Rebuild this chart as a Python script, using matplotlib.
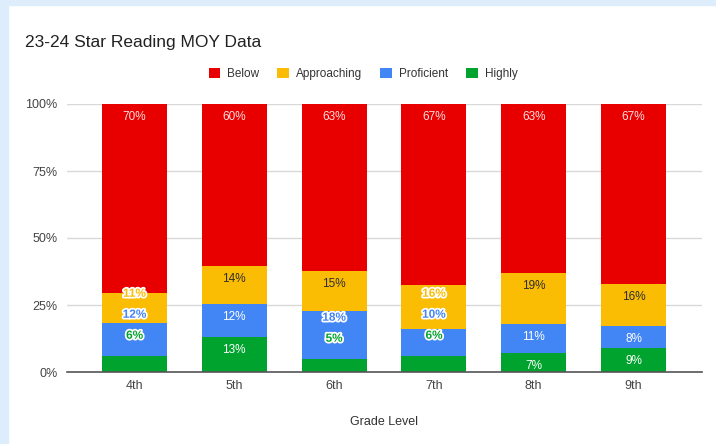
import matplotlib
matplotlib.use("Agg")
import matplotlib.pyplot as plt
import matplotlib.patheffects as pe
import numpy as np

plt.rcParams["font.family"] = ["Liberation Sans", "DejaVu Sans"]

grades = ["4th", "5th", "6th", "7th", "8th", "9th"]
highly = [6, 13, 5, 6, 7, 9]
proficient = [12, 12, 18, 10, 11, 8]
approaching = [11, 14, 15, 16, 19, 16]
below = [70, 60, 63, 67, 63, 67]

series = [
    ("Highly", highly, "#00a32d", "white"),
    ("Proficient", proficient, "#4285f4", "white"),
    ("Approaching", approaching, "#fbbc04", "#2e2e2e"),
    ("Below", below, "#e80000", "#fde0e0"),
]

fig = plt.figure(figsize=(7.16, 4.44), dpi=100)
fig.patch.set_facecolor("white")
# light blue frame along top and left edges
fig.patches.append(plt.Rectangle((0, 1 - 5 / 444), 1, 5 / 444, transform=fig.transFigure,
                                 color="#deedfc", zorder=0))
fig.patches.append(plt.Rectangle((0, 0), 8 / 716, 1, transform=fig.transFigure,
                                 color="#deedfc", zorder=0))

ax = fig.add_axes([67 / 716, 72 / 444, 635 / 716, 268 / 444])
x = np.arange(len(grades))
totals = np.sum([s[1] for s in series], axis=0)

bottom = np.zeros(len(grades))
tops = []
for name, vals, color, tcolor in series:
    frac = np.array(vals) / totals
    ax.bar(x, frac, 0.65, bottom=bottom, color=color, label=name, zorder=2)
    bottom = bottom + frac
    tops.append(bottom.copy())

# label placement: inside near top, small ones above, pushed up on collision
px = 1 / 268
for i in range(len(grades)):
    prev = None
    for k, (name, vals, color, tcolor) in enumerate(series):
        top = tops[k][i]
        y = top - 13 * px
        moved = False
        if vals[i] < 7:
            y = top + 20 * px
            moved = True
        if prev is not None and y < prev + 21 * px:
            y = prev + 21 * px
            moved = True
        prev = y
        txt = f"{vals[i]}%"
        if moved:
            ax.text(x[i], y, txt, ha="center", va="center", fontsize=8.5, color=color,
                    fontweight="bold", zorder=4,
                    path_effects=[pe.withStroke(linewidth=2.5, foreground="white")])
        else:
            ax.text(x[i], y, txt, ha="center", va="center", fontsize=8.5, color=tcolor, zorder=4)

ax.set_xlim(-0.676, 5.686)
ax.set_ylim(0, 1)
ax.set_yticks([0, 0.25, 0.5, 0.75, 1.0])
ax.set_yticklabels(["0%", "25%", "50%", "75%", "100%"])
ax.yaxis.grid(True, color="#d9d9d9", linewidth=1, zorder=0)
ax.set_axisbelow(True)
ax.set_xticks(x)
ax.set_xticklabels(grades)
ax.tick_params(axis="both", length=0, labelsize=9, colors="#444444")
ax.tick_params(axis="y", pad=7)
ax.tick_params(axis="x", pad=6)
for s in ["top", "right", "left"]:
    ax.spines[s].set_visible(False)
ax.spines["bottom"].set_color("#555555")
ax.spines["bottom"].set_linewidth(1.2)
ax.spines["bottom"].set_zorder(3)
ax.set_xlabel("Grade Level", fontsize=9, color="#333333", labelpad=17)

fig.text(25 / 716, 1 - 42 / 444, "23-24 Star Reading MOY Data", fontsize=12.5,
         color="#222222", va="center", ha="left")

handles, labels = ax.get_legend_handles_labels()
order = [3, 2, 1, 0]
fig.legend([handles[j] for j in order], [labels[j] for j in order],
           loc="center", bbox_to_anchor=(363 / 716, 1 - 74 / 444), ncol=4,
           frameon=False, fontsize=8.5, handlelength=1.0, handleheight=1.0,
           handletextpad=0.6, columnspacing=1.5, labelcolor="#333333")

fig.savefig("out.png", dpi=100, facecolor="white")
